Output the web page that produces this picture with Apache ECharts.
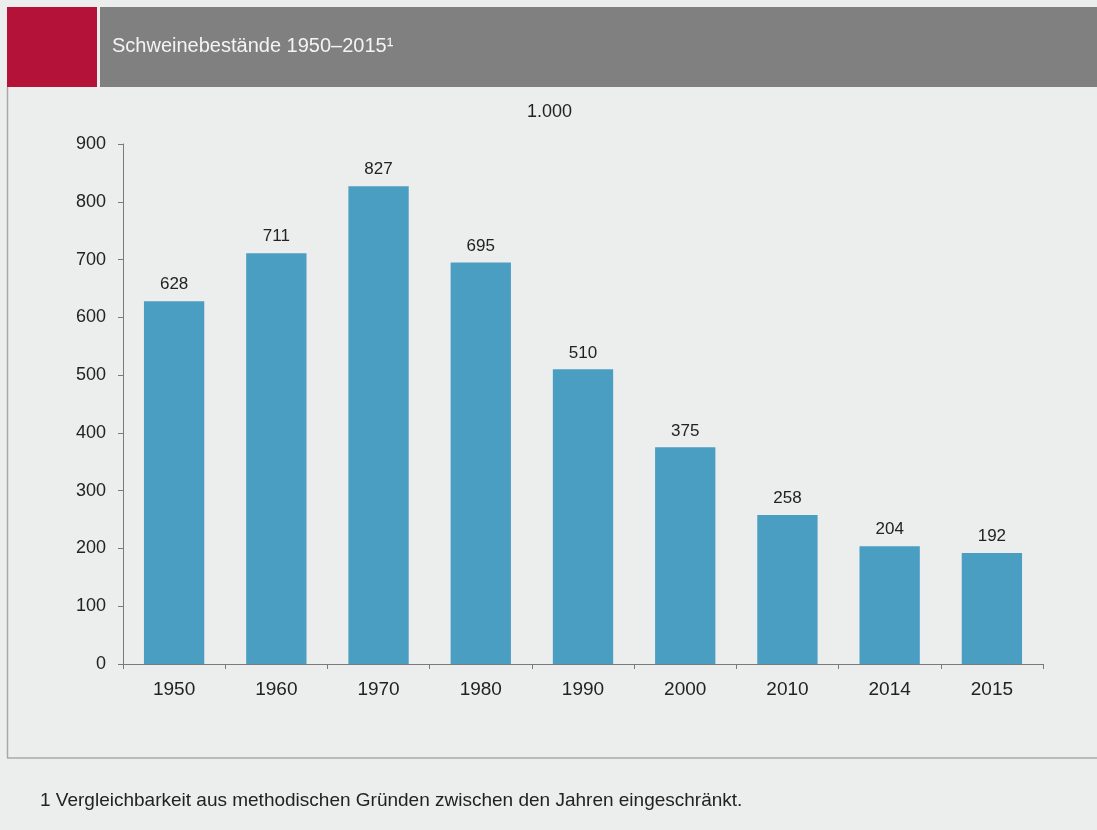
<!DOCTYPE html>
<html>
<head>
<meta charset="utf-8">
<script src="https://cdn.jsdelivr.net/npm/echarts@6/dist/echarts.min.js"></script>
<style>
  html, body { margin: 0; padding: 0; background: #eceeee; }
  #main { width: 1097px; height: 830px; }
</style>
</head>
<body>
<div id="main"></div>
<script>
var chartDom = document.getElementById('main');
var myChart = echarts.init(chartDom);

// Jahre und Bestände (Werte wie im Original beschriftet)
const years = ['1950', '1960', '1970', '1980', '1990', '2000', '2010', '2014', '2015'];
const pigs = [628, 711, 827, 695, 510, 375, 258, 204, 192];

const font = '"Liberation Sans", Arial, sans-serif';

var option = {
    backgroundColor: '#eceeee',
    animation: false,
    grid: {
        left: 123,
        right: 54,
        top: 144,
        bottom: 166
    },
    xAxis: {
        type: 'category',
        data: years,
        axisLine: { lineStyle: { color: '#7a7a7a', width: 1 } },
        axisTick: { show: true, length: 5, lineStyle: { color: '#7a7a7a' } },
        axisLabel: { color: '#222', fontSize: 19, fontFamily: font, margin: 16 }
    },
    yAxis: {
        type: 'value',
        min: 0,
        max: 900,
        interval: 100,
        splitLine: { show: false },
        axisLine: { show: true, lineStyle: { color: '#7a7a7a', width: 1 } },
        axisTick: { show: true, length: 5, lineStyle: { color: '#7a7a7a' } },
        axisLabel: { color: '#222', fontSize: 18, fontFamily: font, margin: 17 }
    },
    series: [
        {
            type: 'bar',
            data: pigs,
            barWidth: '59%',
            itemStyle: { color: '#4a9ec2' },
            label: {
                show: true,
                position: 'top',
                distance: 8,
                color: '#222',
                fontSize: 17,
                fontFamily: font
            }
        }
    ],
    graphic: {
        elements: [
            // Rahmen links und unten
            { type: 'line', shape: { x1: 7.5, y1: 87, x2: 7.5, y2: 758 }, style: { stroke: '#a8a8a8', lineWidth: 1.5 }, z: 1 },
            { type: 'line', shape: { x1: 7, y1: 758, x2: 1097, y2: 758 }, style: { stroke: '#a8a8a8', lineWidth: 1.5 }, z: 1 },
            // Kopfzeile
            { type: 'rect', shape: { x: 7, y: 7, width: 90, height: 80 }, style: { fill: '#b5123a' }, z: 1 },
            { type: 'rect', shape: { x: 100, y: 7, width: 997, height: 80 }, style: { fill: '#808080' }, z: 1 },
            {
                type: 'text', left: 112, top: 36,
                style: { text: 'Schweinebestände 1950–2015¹', font: '20px "Liberation Sans", Arial, sans-serif', fill: '#f4f4f4' },
                z: 2
            },
            {
                type: 'text', left: 527, top: 103,
                style: { text: '1.000', font: '18px "Liberation Sans", Arial, sans-serif', fill: '#222' },
                z: 2
            },
            {
                type: 'text', left: 40, top: 791,
                style: { text: '1 Vergleichbarkeit aus methodischen Gründen zwischen den Jahren eingeschränkt.', font: '19px "Liberation Sans", Arial, sans-serif', fill: '#222' },
                z: 2
            }
        ]
    }
};

myChart.setOption(option);
</script>
</body>
</html>
